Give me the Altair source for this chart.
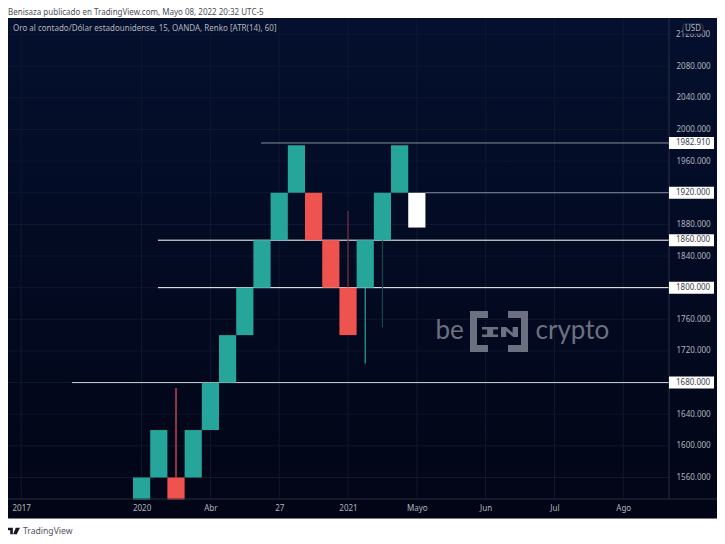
import altair as alt
import pandas as pd

# Renko bricks (index, open, close); 1532 is the visible cut at the pane's bottom
brick_idx = list(range(17))
brick_low = [1532, 1560, 1532, 1560, 1620, 1680, 1740, 1800, 1860, 1920, 1860, 1800, 1740, 1800, 1860, 1920, 1876]
brick_high = [1560, 1620, 1560, 1620, 1680, 1740, 1800, 1860, 1920, 1980, 1920, 1860, 1800, 1860, 1920, 1980, 1920]
brick_kind = ["up", "up", "down", "up", "up", "up", "up", "up", "up", "up", "down", "down", "down", "up", "up", "up", "open"]

wick_idx = [2, 12, 13, 14]
wick_low = [1560, 1800, 1704, 1750]
wick_high = [1673, 1897, 1800, 1860]
wick_kind = ["down", "downdim", "up", "updim"]

line_price = [1982.91, 1920, 1860, 1800, 1680]
line_start = [6.94, 16.5, 0.95, 0.95, -4.05]
line_kind = ["gray", "gray", "white", "white", "light"]
line_label = ["1982.910", "1920.000", "1860.000", "1800.000", "1680.000"]

grid_prices = [1560, 1600, 1640, 1680, 1720, 1760, 1800, 1840, 1880, 1920, 1960, 2000, 2040, 2080, 2120]
hidden_prices = [1680, 1800, 1920, 2120]
tick_idx = [-7, 0, 4, 8, 12, 16, 20, 24, 28]
tick_text = ["2017", "2020", "Abr", "27", "2021", "Mayo", "Jun", "Jul", "Ago"]

LOGO = ("M-1,-.707H-.38V-.466H-.759V.466H-.38V.707H-1Z"
        "M1,-.707H.31V-.466H.759V.466H.31V.707H1Z"
        "M-.586,-.155H-.03V-.07H-.2V.105H-.03V.19H-.586V.105H-.41V-.07H-.586Z"
        "M.07,-.155H.25L.47,.05V-.155H.655V.19H.49L.25,-.02V.19H.07Z")
TV = ("M-1,-.5H-.1V.5H-.5V-.1H-1Z"
      "M.35,-.5H1L.5,.5H-.05Z")

W, H, PANE_W, PANE_H = 709, 500, 661, 481
TXT = "#b2b5be"
FONT = "Noto Sans"

xs = alt.Scale(domain=[-7.767, 33.45], nice=False, zero=False)
ys = alt.Scale(domain=[1508.8, 2140.9], nice=False, zero=False)

label_map = ",".join("'%d':'%s'" % (i, t) for i, t in zip(tick_idx, tick_text))
AX_X = alt.Axis(
    orient="bottom", offset=-19, values=tick_idx, title=None, grid=False, domain=False, ticks=False,
    labelExpr="{%s}[''+datum.value]" % label_map,
    labelColor=TXT, labelFont=FONT, labelFontSize=8, labelPadding=5, labelFlush=False, labelOverlap=False, zindex=1)
AX_Y = alt.Axis(
    orient="right", offset=-48, values=grid_prices, title=None, grid=False, domain=False, ticks=False,
    labelExpr="indexof(%s, datum.value) >= 0 ? '' : format(datum.value, '.3f')" % hidden_prices,
    labelColor=TXT, labelFont=FONT, labelFontSize=8, labelPadding=7, labelOverlap=False, zindex=1)


def X(field):
    return alt.X(field, scale=xs, axis=AX_X)


def Y(field):
    return alt.Y(field, scale=ys, axis=AX_Y)


bricks = pd.DataFrame({"i": brick_idx, "lo": brick_low, "hi": brick_high, "k": brick_kind})
bricks["a"] = bricks.i - 0.5
bricks["b"] = bricks.i + 0.5
wicks = pd.DataFrame({"i": wick_idx, "lo": wick_low, "hi": wick_high, "k": wick_kind})
lines = pd.DataFrame({"p": line_price, "s": line_start, "k": line_kind, "t": line_label})
grid_h = pd.DataFrame({"p": grid_prices})
grid_v = pd.DataFrame({"i": tick_idx})

bg = alt.Chart(pd.DataFrame({"a": [0]})).mark_rect(
    color=alt.LinearGradient(gradient="linear", x1=0, x2=0, y1=0, y2=1,
                             stops=[alt.GradientStop(color="#04102e", offset=0),
                                    alt.GradientStop(color="#020516", offset=1)])
).encode(x=alt.value(0), x2=alt.value(W), y=alt.value(0), y2=alt.value(H))

GRID = "#10182f"
gh = alt.Chart(grid_h).mark_rule(color=GRID, strokeWidth=1).encode(
    y=Y("p:Q"), x=alt.value(0), x2=alt.value(PANE_W))
gv = alt.Chart(grid_v).mark_rule(color=GRID, strokeWidth=1).encode(
    x=X("i:Q"), y=alt.value(0), y2=alt.value(PANE_H))

sep_v = alt.Chart(grid_v.head(1)).mark_rule(color="#2a2e42").encode(
    x=alt.value(PANE_W), y=alt.value(0), y2=alt.value(PANE_H))
sep_h = alt.Chart(grid_v.head(1)).mark_rule(color="#2a2e42").encode(
    y=alt.value(PANE_H), x=alt.value(0), x2=alt.value(W))

hl = alt.Chart(lines).mark_rule(strokeWidth=1).encode(
    y=Y("p:Q"),
    x=X("s:Q"),
    x2=alt.value(PANE_W),
    color=alt.Color("k:N", legend=None,
                    scale=alt.Scale(domain=["gray", "white", "light"], range=["#8a8d99", "#ffffff", "#d1d4dc"])),
)

wk = alt.Chart(wicks).mark_rule().encode(
    x=X("i:Q"),
    y=Y("lo:Q"),
    y2="hi:Q",
    size=alt.Size("k:N", legend=None,
                  scale=alt.Scale(domain=["up", "down", "updim", "downdim"], range=[1.2, 1.2, 2, 1])),
    color=alt.Color("k:N", legend=None,
                    scale=alt.Scale(domain=["up", "down", "updim", "downdim"],
                                    range=["#26a69a", "#ef5350", "#0f4a50", "#7a3040"])),
)

br = alt.Chart(bricks).mark_rect().encode(
    x=X("a:Q"),
    x2="b:Q",
    y=Y("lo:Q"),
    y2="hi:Q",
    color=alt.Color("k:N", legend=None,
                    scale=alt.Scale(domain=["up", "down", "open"], range=["#26a69a", "#ef5350", "#ffffff"])),
)

boxes = alt.Chart(lines).mark_rect(height=12, color="#ffffff").encode(
    y=Y("p:Q"), x=alt.value(PANE_W), x2=alt.value(PANE_W + 45))
box_text = alt.Chart(lines).mark_text(align="left", baseline="middle", font=FONT, fontSize=8, color="#3a3e4a").encode(
    y=Y("p:Q"), x=alt.value(PANE_W + 7), text="t:N")

t2120 = alt.Chart(pd.DataFrame({"p": [2120], "t": ["2120.000"]})).mark_text(
    align="left", baseline="middle", font=FONT, fontSize=8, color=TXT).encode(
    y=Y("p:Q"), x=alt.value(PANE_W + 7), text="t:N")
usd_box = alt.Chart(pd.DataFrame({"a": [0]})).mark_rect(
    fill="#050e2b", stroke="#3a4054", cornerRadius=2).encode(
    x=alt.value(675), x2=alt.value(695), y=alt.value(6), y2=alt.value(16))
usd = alt.Chart(pd.DataFrame({"t": ["USD"]})).mark_text(
    align="center", baseline="middle", font=FONT, fontSize=8, color=TXT).encode(
    x=alt.value(685), y=alt.value(11), text="t:N")


def label(text, x, y, size, color, font=FONT, **kw):
    return alt.Chart(pd.DataFrame({"t": [text]})).mark_text(
        align="left", baseline="middle", font=font, fontSize=size, color=color, **kw
    ).encode(x=alt.value(x), y=alt.value(y), text="t:N")


legend_t = label("Oro al contado/Dólar estadounidense, 15, OANDA, Renko [ATR(14), 60]", 5, 11, 8, TXT)
header = label("Benisaza publicado en TradingView.com, Mayo 08, 2022 20:32 UTC-5", 0, -5, 8, "#4a4e58")
footer = label("TradingView", 15, 513, 8.6, "#50535e")
tv = alt.Chart(pd.DataFrame({"a": [0]})).mark_point(
    shape=TV, filled=True, size=169, color="#131722", opacity=1).encode(x=alt.value(5.5), y=alt.value(513))

wm_color = "#6c7080"
be = label("be", 427.5, 313, 26, wm_color, font="Lato", fontWeight=400)
crypto = label("crypto", 527.5, 313, 26, wm_color, font="Lato", fontWeight=400)
logo = alt.Chart(pd.DataFrame({"a": [0]})).mark_point(
    shape=LOGO, filled=True, size=3364, color=wm_color, opacity=1).encode(x=alt.value(491), y=alt.value(313.5))

chart = alt.layer(
    bg, gh, gv, hl, wk, br, sep_v, sep_h, boxes, box_text, t2120, usd_box, usd,
    legend_t, header, footer, tv, be, crypto, logo,
).resolve_scale(color="independent", size="independent").properties(
    width=W, height=H,
    autosize=alt.AutoSizeParams(type="none"),
    padding={"left": 0, "top": 10, "right": 0, "bottom": 18},
    background="#ffffff",
).configure_view(stroke="#787b86", strokeWidth=1, clip=False)

chart.save("out.html", embed_options={"renderer": "svg", "actions": False})
